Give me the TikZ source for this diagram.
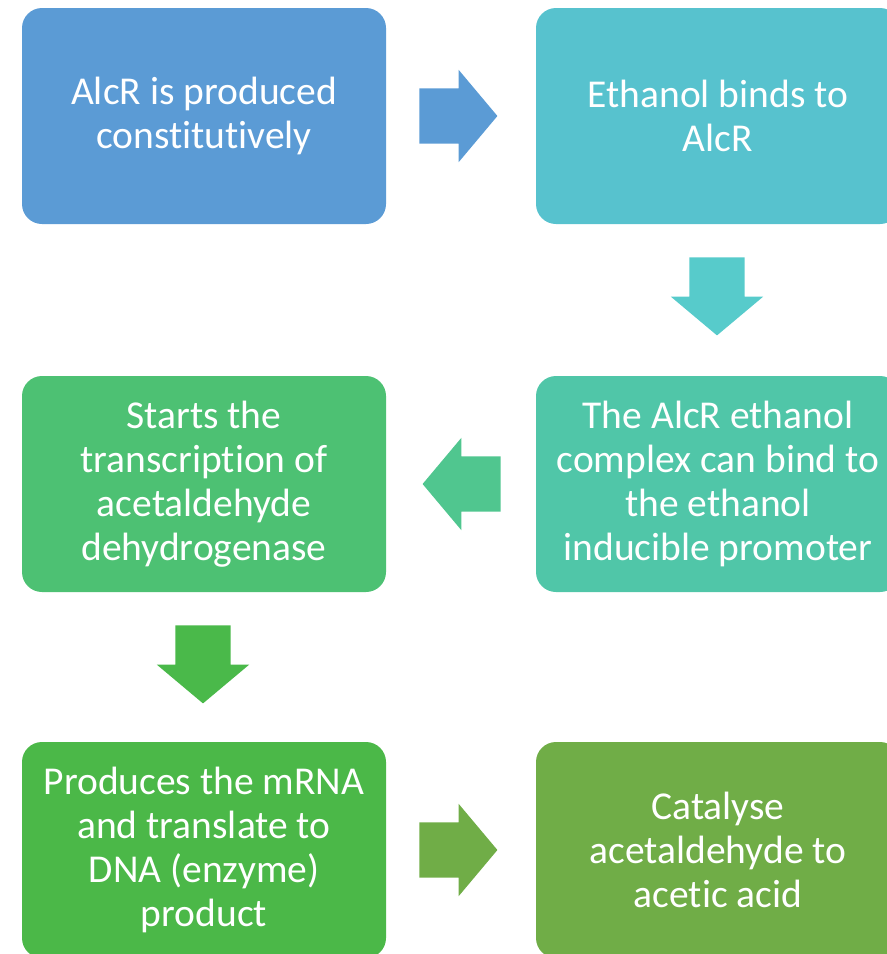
\documentclass[tikz,border=0pt]{standalone}
\usepackage{fontspec}
\setmainfont{Carlito}[Ligatures=NoCommon]
\usepackage{tikz}
\usetikzlibrary{calc,shapes.arrows}
\definecolor{BoxBlue}{HTML}{5B9BD5}
\definecolor{BoxTeal}{HTML}{57C2CE}
\definecolor{ArrowTeal}{HTML}{57CBCB}
\definecolor{BoxMint}{HTML}{50C6A8}
\definecolor{ArrowMint}{HTML}{50C68F}
\definecolor{BoxGreen}{HTML}{4DC173}
\definecolor{ArrowGreen}{HTML}{4AB94A}
\definecolor{BoxLeaf}{HTML}{4BB848}
\definecolor{BoxOlive}{HTML}{70AD47}

\begin{document}
\begin{tikzpicture}[x=1pt,y=-1pt,
    stepbox/.style={rectangle, rounded corners=20pt, minimum width=364pt,
      minimum height=216pt, inner sep=0pt, align=center, text=white,
      font=\fontsize{39.5}{44}\selectfont},
    blockarrow/.style={single arrow, anchor=tail, minimum height=78pt,
      inner xsep=0pt, inner ysep=27.5pt, single arrow head extend=18.5pt,
      single arrow tip angle=100}
  ]
    \useasboundingbox (0,0) rectangle (887,954);
    %% boxes
    \node[stepbox, fill=BoxBlue] (alcr) at (204,116) {AlcR is produced\\constitutively};
    \node[stepbox, fill=BoxTeal] (bind) at (718,116) {Ethanol binds to\\AlcR};
    \node[stepbox, fill=BoxMint] (cplx) at (718,484)
      {The AlcR ethanol\\complex can bind to\\the ethanol\\inducible promoter};
    \node[stepbox, fill=BoxGreen] (start) at (204,484)
      {Starts the\\transcription of\\acetaldehyde\\dehydrogenase};
    \node[stepbox, fill=BoxLeaf] (prod) at (204,850)
      {Produces the mRNA\\and translate to\\DNA (enzyme)\\product};
    \node[stepbox, fill=BoxOlive] (cat) at (718,850)
      {Catalyse\\acetaldehyde to\\acetic acid};
    %% block arrows
    \node[blockarrow, fill=BoxBlue] (a1) at ($(alcr.east)+(33,0)$) {};
    \node[blockarrow, fill=ArrowTeal, rotate=-90] (a2) at ($(bind.south)+(-1,33)$) {};
    \node[blockarrow, fill=ArrowMint, rotate=180] (a3) at ($(cplx.west)+(-35,0)$) {};
    \node[blockarrow, fill=ArrowGreen, rotate=-90] (a4) at ($(start.south)+(-1,33)$) {};
    \node[blockarrow, fill=BoxOlive] (a5) at ($(prod.east)+(33,0)$) {};
\end{tikzpicture}
\end{document}
